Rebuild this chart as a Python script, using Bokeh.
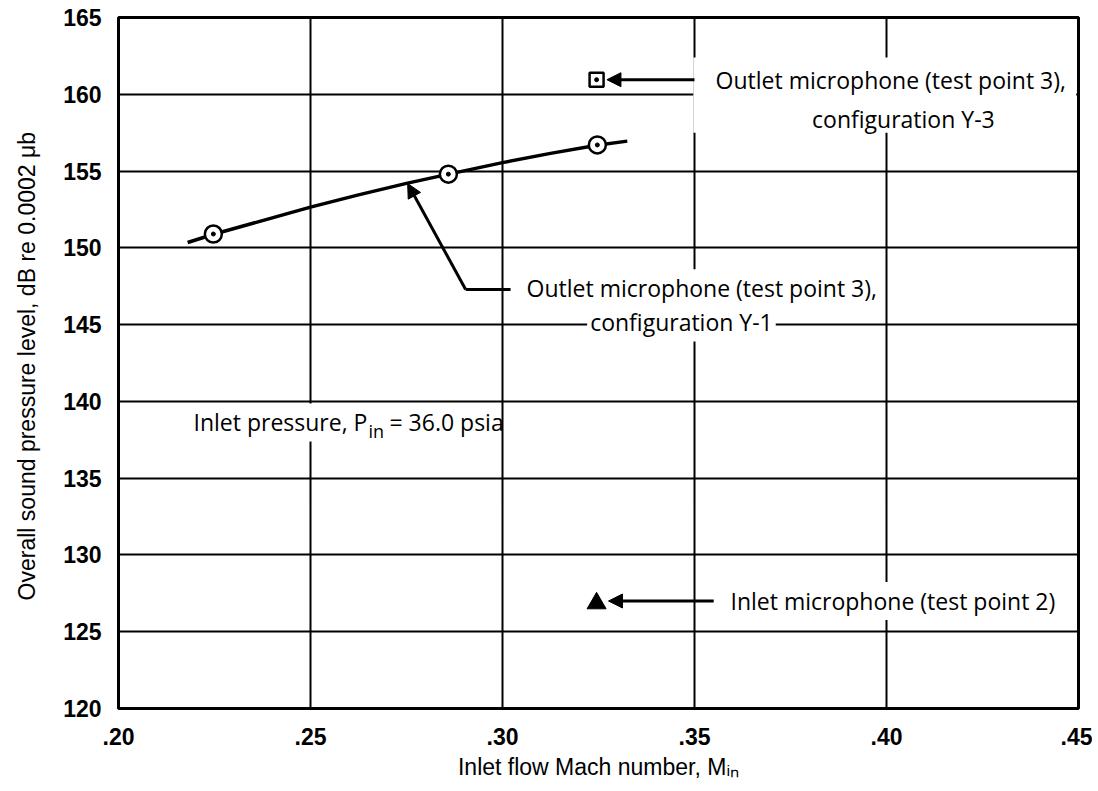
import numpy as np
from bokeh.plotting import figure
from bokeh.models import Range1d, FixedTicker, Label, Arrow, NormalHead, BoxAnnotation
from bokeh.embed import file_html
from bokeh.resources import INLINE

# ---------------- data ----------------
x_ticks = [0.20, 0.25, 0.30, 0.35, 0.40, 0.45]
x_tick_labels = [".20", ".25", ".30", ".35", ".40", ".45"]
y_ticks = [120, 125, 130, 135, 140, 145, 150, 155, 160, 165]

# Outlet microphone (test point 3), configuration Y-1: measured points
y1_mach = [0.2247, 0.2859, 0.3247]
y1_spl = [150.9, 154.8, 156.7]

# faired curve through configuration Y-1
curve_mach = [0.218, 0.225, 0.235, 0.250, 0.2625, 0.275, 0.286, 0.300, 0.3125, 0.325, 0.3325]
curve_spl = [150.35, 150.9, 151.6, 152.65, 153.45, 154.2, 154.8, 155.55, 156.15, 156.7, 156.95]

# Outlet microphone (test point 3), configuration Y-3
y3_mach = [0.3245]
y3_spl = [160.95]

# Inlet microphone (test point 2)
inlet_mach = [0.3245]
inlet_spl = [126.85]

# ---------------- figure ----------------
p = figure(width=1092, height=791, output_backend="svg", toolbar_location=None,
           x_range=Range1d(0.20, 0.45), y_range=Range1d(120, 165),
           min_border_left=118, min_border_right=14, min_border_top=17, min_border_bottom=83)
p.background_fill_color = "white"
p.border_fill_color = "white"
p.outline_line_color = "black"
p.outline_line_width = 3

p.xaxis.ticker = FixedTicker(ticks=x_ticks)
p.yaxis.ticker = FixedTicker(ticks=y_ticks)
p.xaxis.major_label_overrides = {t: s for t, s in zip(x_ticks, x_tick_labels)}
for ax in (p.xaxis[0], p.yaxis[0]):
    ax.axis_line_color = None
    ax.major_tick_line_color = None
    ax.minor_tick_line_color = None
    ax.major_tick_out = 0
    ax.major_tick_in = 0
    ax.major_label_text_font = "Liberation Sans"
    ax.major_label_text_font_style = "bold"
    ax.major_label_text_font_size = "23px"
    ax.major_label_text_color = "black"
    ax.axis_label_text_font = "Liberation Sans"
    ax.axis_label_text_font_style = "normal"
    ax.axis_label_text_font_size = "23px"
    ax.axis_label_text_color = "black"
p.yaxis.major_label_standoff = 17
p.xaxis.major_label_standoff = 19
p.xaxis.axis_label = "Inlet flow Mach number, M\u1d62\u2099"
p.xaxis.axis_label_standoff = 6
p.yaxis.axis_label = "Overall sound pressure level, dB re  0.0002 \u03bcb"
p.yaxis.axis_label_standoff = 20

for g in (p.xgrid[0], p.ygrid[0]):
    g.grid_line_color = "black"
    g.grid_line_width = 2
    g.grid_line_alpha = 1.0

ANN_FONT = "Open Sans"
ANN_SIZE = "23px"

# ---------------- data marks ----------------
p.line(curve_mach, curve_spl, line_color="black", line_width=3.5)
p.scatter(y1_mach, y1_spl, marker="circle", size=17, fill_color="white",
          line_color="black", line_width=2.5)
p.scatter(y1_mach, y1_spl, marker="circle", size=4, fill_color="black", line_color="black")
p.scatter(y3_mach, y3_spl, marker="square", size=14, fill_color="white",
          line_color="black", line_width=2.5)
p.scatter(y3_mach, y3_spl, marker="circle", size=4, fill_color="black", line_color="black")
p.scatter(inlet_mach, inlet_spl, marker="triangle", size=19, fill_color="black",
          line_color="black")

# ---------------- annotations ----------------
# white block behind the Y-3 note
p.add_layout(BoxAnnotation(left=0.3497, right=0.4494, top=162.4, bottom=157.5,
                           fill_color="white", fill_alpha=1.0, line_color=None))

def arrow(x0, y0, x1, y1, head=True):
    p.add_layout(Arrow(x_start=x0, y_start=y0, x_end=x1, y_end=y1,
                       line_color="black", line_width=3,
                       end=NormalHead(size=14, fill_color="black", line_color="black") if head else None))

def label(x, y, text, align="left", size=ANN_SIZE, font=ANN_FONT, bg=True, **kw):
    lab = Label(x=x, y=y, text=text, text_font=font, text_font_size=size,
                text_color="black", text_align=align, text_baseline="middle", **kw)
    if bg:
        lab.background_fill_color = "white"
        lab.padding = 3
    p.add_layout(lab)

# Y-3 note
arrow(0.3500, 160.95, 0.3272, 160.95)
label(0.3555, 160.9, "Outlet microphone (test point 3),", bg=False)
label(0.4044, 158.42, "configuration Y-3", align="center", bg=False)

# Y-1 note (leader with bend)
arrow(0.3021, 147.29, 0.2904, 147.29, head=False)
arrow(0.2904, 147.29, 0.2753, 154.19)
label(0.3055, 147.36, "Outlet microphone (test point 3),")
label(0.3466, 145.14, "configuration Y-1", align="center")

# Inlet microphone note
arrow(0.3550, 127.0, 0.3276, 127.0)
label(0.3586, 127.0, "Inlet microphone (test point 2)")

# Inlet pressure note
label(0.21875, 138.63, "Inlet pressure, P")
label(0.26510, 138.63, "in", size="18px", y_offset=-9, bg=False)
label(0.27057, 138.63, "= 36.0 psia", bg=False)

open("out.html", "w").write(file_html(p, INLINE))
